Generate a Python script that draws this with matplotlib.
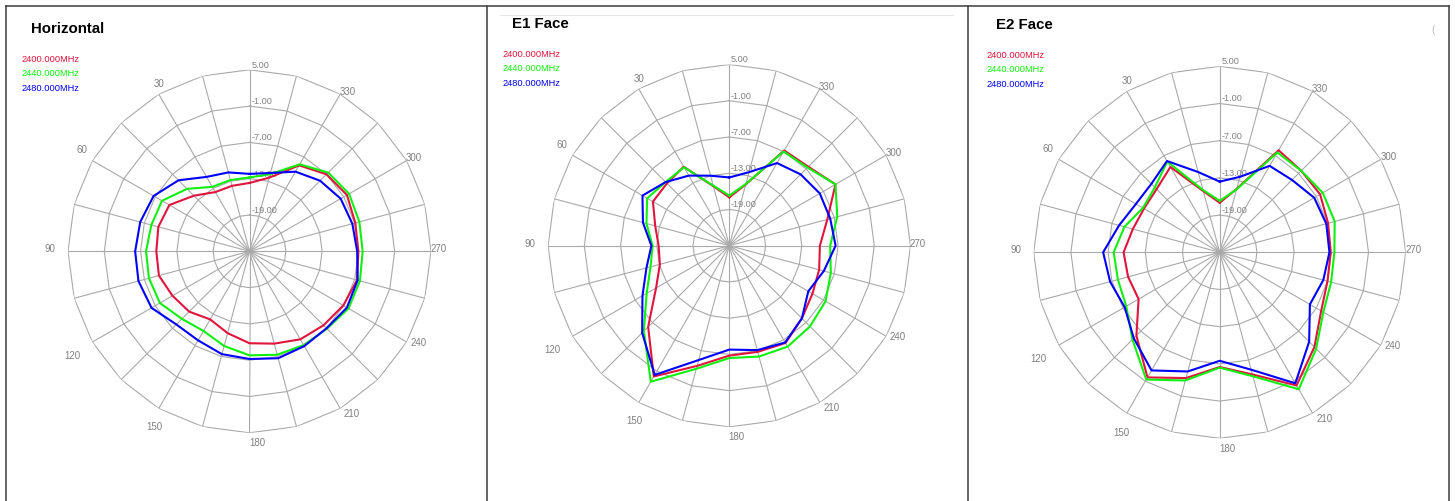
import numpy as np
import matplotlib
matplotlib.use("Agg")
import matplotlib.pyplot as plt
from matplotlib.lines import Line2D

# ---------------------------------------------------------------
# data: gain in dB every 15 degrees (CCW from top)
# ---------------------------------------------------------------
angles = list(range(0, 360, 15))
freq_labels = ["2400.000MHz", "2440.000MHz", "2480.000MHz"]
panel_titles = ["Horizontal", "E1 Face", "E2 Face"]
ring_values = [5, -1, -7, -13, -19]
angle_labels = list(range(30, 360, 30))

horiz_2400 = [-13.7, -13.8, -13.7, -12.0, -9.7, -9.4, -9.6, -9.5, -10.3, -10.9, -12.0, -11.0,
              -9.8, -9.2, -8.2, -7.7, -7.1, -6.6, -7.0, -6.9, -6.4, -7.0, -8.6, -12.4]
horiz_2440 = [-12.8, -12.8, -12.7, -10.4, -8.3, -8.2, -7.9, -7.8, -7.9, -9.2, -9.8, -8.8,
              -7.8, -7.3, -7.1, -6.9, -6.1, -6.1, -6.3, -6.2, -6.0, -6.6, -8.4, -11.8]
horiz_2480 = [-12.2, -11.5, -10.8, -8.4, -6.7, -6.3, -6.1, -6.0, -6.3, -7.9, -8.0, -7.4,
              -7.2, -6.7, -6.9, -7.0, -6.4, -6.5, -7.2, -7.4, -7.6, -8.5, -9.8, -11.6]

e1_2400 = [-17.0, -14.8, -9.9, -10.4, -10.4, -12.3, -13.3, -13.1, -11.0, -6.0, 0.0, -4.4,
           -6.8, -6.8, -6.4, -8.0, -9.1, -9.6, -10.0, -8.2, -4.7, -6.5, -6.8, -14.5]
e1_2440 = [-16.7, -14.7, -10.0, -10.1, -9.3, -10.8, -12.3, -11.5, -9.2, -5.0, 1.0, -3.9,
           -6.4, -6.0, -5.7, -6.1, -6.6, -7.6, -8.3, -6.5, -4.7, -6.7, -7.0, -14.4]
e1_2480 = [-13.7, -13.0, -11.6, -10.1, -8.4, -10.2, -12.1, -10.8, -8.4, -4.6, -0.3, -5.4,
           -7.8, -7.1, -6.5, -8.0, -9.9, -8.8, -7.4, -7.7, -7.7, -8.3, -9.2, -12.4]

e2_2400 = [-17.0, -14.8, -9.1, -10.6, -10.9, -10.5, -9.5, -9.7, -9.9, -6.0, -1.7, -4.0,
           -6.5, -4.6, -0.2, -3.4, -6.1, -7.0, -7.1, -6.9, -6.3, -6.4, -6.0, -14.4]
e2_2440 = [-16.7, -14.6, -8.1, -10.2, -10.7, -9.1, -7.9, -8.0, -7.6, -5.1, -1.3, -3.6,
           -6.4, -4.3, 0.5, -3.0, -5.7, -6.4, -6.5, -5.8, -5.8, -6.4, -6.4, -14.5]
e2_2480 = [-13.6, -11.6, -8.0, -9.4, -9.4, -8.2, -6.2, -6.7, -7.3, -5.4, -3.0, -5.1,
           -7.5, -5.4, -0.6, -4.6, -8.2, -7.7, -7.3, -7.2, -7.4, -8.5, -8.9, -12.4]

panel_series = [
    [horiz_2400, horiz_2440, horiz_2480],
    [e1_2400, e1_2440, e1_2480],
    [e2_2400, e2_2440, e2_2480],
]

# ---------------------------------------------------------------
# styling / layout (pixel positions in a 1455 x 502 canvas)
# ---------------------------------------------------------------
W, H = 1455, 502
R_MIN, R_MAX = -25, 5
line_colors = ["#e0143c", "#10f010", "#0000ff"]
grid_color = "#a9a9a9"
label_gray = "#808080"
FONT = "Liberation Sans"

# (center x, center y, radius) of each polar plot, title pos, legend pos
panels = [
    dict(cx=249.5, cy=252.3, R=181.5, title=(31, 29), legend=(22, 59.5)),
    dict(cx=729.3, cy=246.7, R=181.2, title=(512, 24.5), legend=(503, 54.5)),
    dict(cx=1219.7, cy=253.3, R=186.0, title=(996, 25), legend=(987, 55.5)),
]
# where the chart puts its angle labels, px from centre for a 181.5 px radius
angle_label_offsets = [(-90.8, -168), (-167.5, -102), (-199.2, -3), (-176.8, 103.4),
                       (-95.5, 175), (7.5, 191), (102.5, 162), (168.8, 90.4),
                       (188.8, -3), (164.5, -94), (97.8, -160)]

fig = plt.figure(figsize=(W / 100, H / 100), dpi=100)
fig.patch.set_facecolor("white")


def fx(x):
    return x / W


def fy(y):
    return 1 - y / H


theta = np.deg2rad(angles)
theta_closed = np.append(theta, theta[0])

for p, series, title in zip(panels, panel_series, panel_titles):
    cx, cy, R = p["cx"], p["cy"], p["R"]
    ax = fig.add_axes([fx(cx - R), fy(cy + R), 2 * R / W, 2 * R / H], projection="polar")
    ax.set_theta_zero_location("N")
    ax.set_theta_direction(1)
    ax.set_ylim(R_MIN, R_MAX)
    ax.grid(False)
    ax.set_xticks([])
    ax.set_yticks([])
    ax.spines["polar"].set_visible(False)
    ax.patch.set_alpha(0)

    # spokes and polygon rings
    for t in theta:
        ax.plot([t, t], [R_MIN, R_MAX], color=grid_color, lw=0.8, zorder=1)
    for rv in ring_values:
        ax.plot(theta_closed, [rv] * len(theta_closed), color=grid_color, lw=0.8, zorder=1)

    # radial labels along the top spoke
    for rv in ring_values:
        ax.annotate(f"{rv:.2f}", xy=(0, rv), xytext=(1.2, 2.2), textcoords="offset points",
                    ha="left", va="baseline", fontsize=6.6, color=label_gray,
                    family=FONT, zorder=2)

    # angle labels outside the outer ring
    scale = R / 181.5
    for a, (dx, dy) in zip(angle_labels, angle_label_offsets):
        fig.text(fx(cx + dx * scale), fy(cy + dy * scale), str(a), ha="center", va="center",
                 fontsize=7, color=label_gray, family=FONT)

    # pattern curves
    for vals, col in zip(series, line_colors):
        ax.plot(theta_closed, np.append(vals, vals[0]), color=col, lw=1.5, zorder=3,
                solid_joinstyle="round")

    # title and legend text
    tx, ty = p["title"]
    fig.text(fx(tx), fy(ty), title, ha="left", va="center", fontsize=10.8,
             fontweight="bold", family=FONT, color="black")
    lx, ly = p["legend"]
    for i, (lab, col) in enumerate(zip(freq_labels, line_colors)):
        fig.text(fx(lx), fy(ly + i * 14.3), lab, ha="left", va="center", fontsize=6.7,
                 family=FONT, color=col)

# panel frames
frame_kw = dict(color="#3c3c3c", lw=1.1, transform=fig.transFigure)
for x in [6, 487.5, 967.5, 1449]:
    fig.add_artist(Line2D([fx(x), fx(x)], [fy(7), fy(H + 2)], **frame_kw))
fig.add_artist(Line2D([fx(6), fx(1449)], [fy(7), fy(7)], **frame_kw))
# faint header rule in the middle panel
fig.add_artist(Line2D([fx(500), fx(953)], [fy(16), fy(16)], color="#e8e8e8", lw=0.8,
                      transform=fig.transFigure))
fig.text(fx(1433), fy(30), "(", ha="center", va="center", fontsize=7, color="#bdbdbd",
         family=FONT)

fig.savefig("out.png", dpi=100, facecolor="white")
